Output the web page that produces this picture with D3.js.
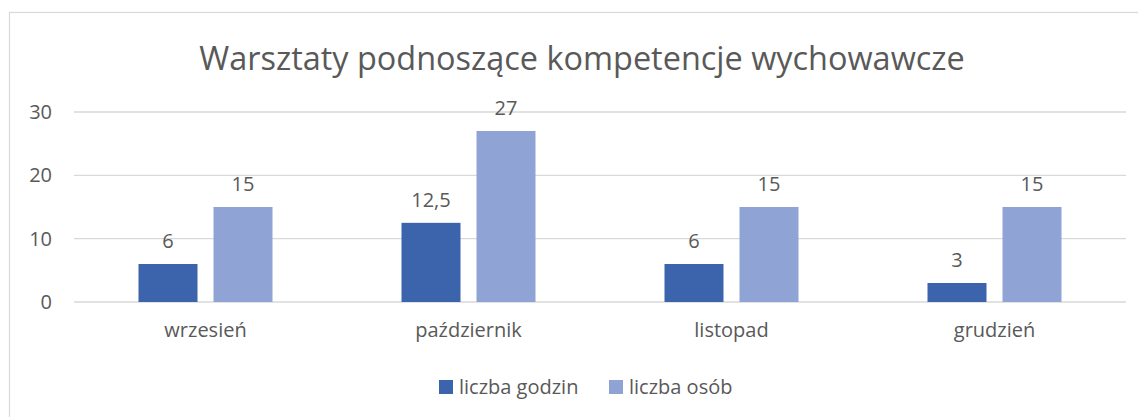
<!DOCTYPE html>
<html>
<head>
<meta charset="utf-8">
<script src="https://cdn.jsdelivr.net/npm/d3@7"></script>
<style>
  body { margin: 0; background: #fff; }
  text { font-family: "Open Sans", "Noto Sans", sans-serif; fill: #595959; }
</style>
</head>
<body>
<div id="chart"></div>
<script>
// chart data
var months = ["wrzesień", "październik", "listopad", "grudzień"];
var seriesNames = ["liczba godzin", "liczba osób"];
var godziny = [6, 12.5, 6, 3];
var osoby = [15, 27, 15, 15];
var yTicks = [0, 10, 20, 30];
var title = "Warsztaty podnoszące kompetencje wychowawcze";

var colours = ["#3c64ad", "#8fa4d5"];

var w = 1138, h = 417;
var padLeft = 74, padRight = 1126, plotTop = 112, plotBottom = 302;
var fs = "20px";

var svg = d3.select("#chart").append("svg")
  .attr("width", w)
  .attr("height", h);

// outer frame
svg.append("rect")
  .attr("x", 9.5).attr("y", 12.5)
  .attr("width", w + 10).attr("height", h + 10)
  .attr("fill", "none")
  .attr("stroke", "#d9d9d9")
  .attr("stroke-width", 1.2);

var x = d3.scaleBand().domain(months).range([padLeft, padRight]);
var x1 = d3.scaleBand().domain(seriesNames).range([0, 134]).paddingInner(16 / 75);
var y = d3.scaleLinear().domain([0, 30]).range([plotBottom, plotTop]);

// gridlines
svg.selectAll(".grid")
  .data(yTicks)
  .enter().append("line")
  .attr("class", "grid")
  .attr("x1", padLeft).attr("x2", padRight)
  .attr("y1", function(d){ return y(d); })
  .attr("y2", function(d){ return y(d); })
  .attr("stroke", "#d9d9d9")
  .attr("stroke-width", 1.3);

// y axis labels
var yAxis = d3.axisLeft(y).tickValues(yTicks).tickSize(0).tickPadding(0);
var yg = svg.append("g")
  .attr("transform", "translate(52,0)")
  .call(yAxis);
yg.select(".domain").remove();
yg.selectAll("text")
  .style("font-size", fs)
  .style("font-family", "'Open Sans', sans-serif")
  .attr("fill", "#595959");

// x axis labels
var xAxis = d3.axisBottom(x).tickSize(0).tickPadding(0);
var xg = svg.append("g")
  .attr("transform", "translate(0," + (plotBottom + 21) + ")")
  .call(xAxis);
xg.select(".domain").remove();
xg.selectAll("text")
  .style("font-size", fs)
  .style("font-family", "'Open Sans', sans-serif")
  .attr("fill", "#595959");

// bars
var rows = months.map(function(m, i){
  return [
    {month: m, series: seriesNames[0], value: godziny[i]},
    {month: m, series: seriesNames[1], value: osoby[i]}
  ];
});
var groupOff = (x.bandwidth() - 134) / 2;

var groups = svg.selectAll(".group")
  .data(rows)
  .enter().append("g")
  .attr("class", "group")
  .attr("transform", function(d){ return "translate(" + (x(d[0].month) + groupOff) + ",0)"; });

groups.selectAll("rect")
  .data(function(d){ return d; })
  .enter().append("rect")
  .attr("x", function(d){ return x1(d.series); })
  .attr("width", x1.bandwidth())
  .attr("y", function(d){ return y(d.value); })
  .attr("height", function(d){ return y(0) - y(d.value); })
  .attr("fill", function(d, i){ return colours[i]; });

var fmt = function(v){ return String(v).replace(".", ","); };
groups.selectAll(".val")
  .data(function(d){ return d; })
  .enter().append("text")
  .attr("class", "val")
  .attr("x", function(d){ return x1(d.series) + x1.bandwidth() / 2; })
  .attr("y", function(d){ return y(d.value) - 16; })
  .attr("text-anchor", "middle")
  .style("font-size", fs)
  .text(function(d){ return fmt(d.value); });

// title
var t = svg.append("text")
  .attr("x", 582)
  .attr("y", 70)
  .attr("text-anchor", "middle")
  .style("font-size", "30px")
  .text(title);
// fit title to the reference width
var tw = t.node().getComputedTextLength();
t.style("font-size", (30 * 766 / tw) + "px");

// legend
var legend = svg.append("g").attr("transform", "translate(439,380)");
var lx = [0, 170];
seriesNames.forEach(function(s, i){
  legend.append("rect")
    .attr("x", lx[i]).attr("y", 0)
    .attr("width", 14).attr("height", 14)
    .attr("fill", colours[i]);
  legend.append("text")
    .attr("x", lx[i] + 20).attr("y", 14)
    .style("font-size", fs)
    .text(s);
});
</script>
</body>
</html>
